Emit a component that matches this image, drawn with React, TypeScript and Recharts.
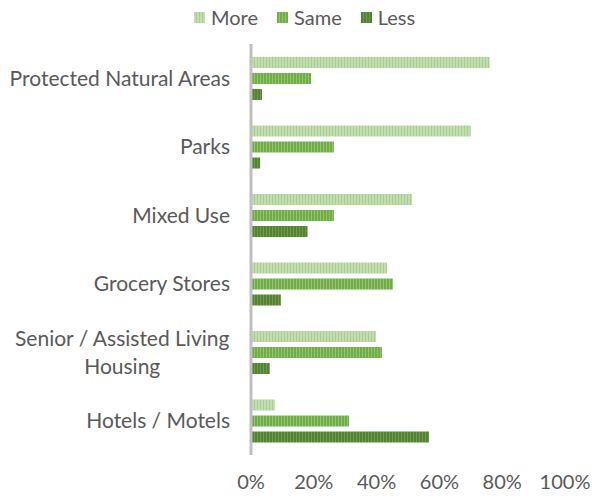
import React from 'react';
import { BarChart, Bar, XAxis, YAxis } from 'recharts';

const categories = [
  'Protected Natural Areas',
  'Parks',
  'Mixed Use',
  'Grocery Stores',
  'Senior / Assisted Living\nHousing',
  'Hotels / Motels',
];
const more = [76, 70, 51.3, 43.3, 39.8, 7.6];
const same = [19.1, 26.4, 26.4, 45.2, 41.7, 31.2];
const less = [3.5, 2.9, 18, 9.5, 6, 56.7];
const xTicks = [0, 20, 40, 60, 80, 100];

const FONT = 'Lato, "Open Sans", sans-serif';
const TEXT = '#595959';
const FS = 20;
const CAT_FS = 21;

const series = [
  { key: 'More', base: '#c3dcb2', stripe: '#a9cf8f' },
  { key: 'Same', base: '#70ad47', stripe: '#93c473' },
  { key: 'Less', base: '#548235', stripe: '#6e9c4c' },
];

const data = categories.map((name, i) => ({
  name,
  More: more[i],
  Same: same[i],
  Less: less[i],
}));

let ctx: CanvasRenderingContext2D | null = null;
const measure = (s: string) => {
  if (!ctx) ctx = document.createElement('canvas').getContext('2d');
  if (!ctx) return s.length * 10;
  ctx.font = `${CAT_FS}px ${FONT}`;
  return ctx.measureText(s).width;
};

const CategoryTick = ({ x, y, payload }: any) => {
  const lines = String(payload.value).split('\n');
  if (lines.length === 1) {
    return (
      <text x={x} y={y} dy="0.355em" textAnchor="end" fill={TEXT} fontSize={CAT_FS} fontFamily={FONT}>
        {lines[0]}
      </text>
    );
  }
  const w = Math.max(...lines.map(measure));
  const cx = x - w / 2;
  return (
    <text x={cx} y={y} textAnchor="middle" fill={TEXT} fontSize={CAT_FS} fontFamily={FONT}>
      {lines.map((l, i) => (
        <tspan key={i} x={cx} y={y + (i - (lines.length - 1) / 2) * 28} dy="0.355em">
          {l}
        </tspan>
      ))}
    </text>
  );
};

const ChartLegend = () => (
  <div
    style={{
      position: 'absolute',
      left: 194,
      top: 5,
      display: 'flex',
      fontFamily: FONT,
      fontSize: FS,
      color: TEXT,
      lineHeight: '24px',
    }}
  >
    {series.map((s) => (
      <div key={s.key} style={{ display: 'flex', alignItems: 'center', marginRight: 19 }}>
        <svg width={11} height={11} style={{ marginRight: 6 }}>
          <rect width={11} height={11} fill={`url(#pat-${s.key})`} />
        </svg>
        <span>{s.key}</span>
      </div>
    ))}
  </div>
);

export default function App() {
  return (
    <div style={{ position: 'absolute', left: 0, top: 0, width: 592, height: 498, background: '#fff' }}>
      <svg width={0} height={0} style={{ position: 'absolute' }}>
        <defs>
          {series.map((s) => (
            <pattern key={s.key} id={`pat-${s.key}`} width={3} height={4} patternUnits="userSpaceOnUse">
              <rect width={3} height={4} fill={s.base} />
              <rect x={2} width={1} height={4} fill={s.stripe} />
            </pattern>
          ))}
        </defs>
      </svg>
      <ChartLegend />
      <BarChart
        width={592}
        height={498}
        data={data}
        layout="vertical"
        margin={{ top: 44, right: 27, bottom: 0, left: 0 }}
        barSize={11}
        barGap={5}
      >
        <XAxis
          type="number"
          domain={[0, 100]}
          ticks={xTicks}
          tickFormatter={(v) => `${v}%`}
          axisLine={false}
          tickLine={false}
          tickSize={0}
          tickMargin={20}
          height={43}
          tick={{ fill: TEXT, fontSize: FS, fontFamily: FONT }}
          interval={0}
        />
        <YAxis
          type="category"
          dataKey="name"
          width={251}
          axisLine={{ stroke: '#bfbfbf', strokeWidth: 3 }}
          tickLine={false}
          tickSize={0}
          tickMargin={21}
          tick={<CategoryTick />}
          interval={0}
        />
        {series.map((s) => (
          <Bar key={s.key} dataKey={s.key} fill={`url(#pat-${s.key})`} isAnimationActive={false} />
        ))}
      </BarChart>
    </div>
  );
}
